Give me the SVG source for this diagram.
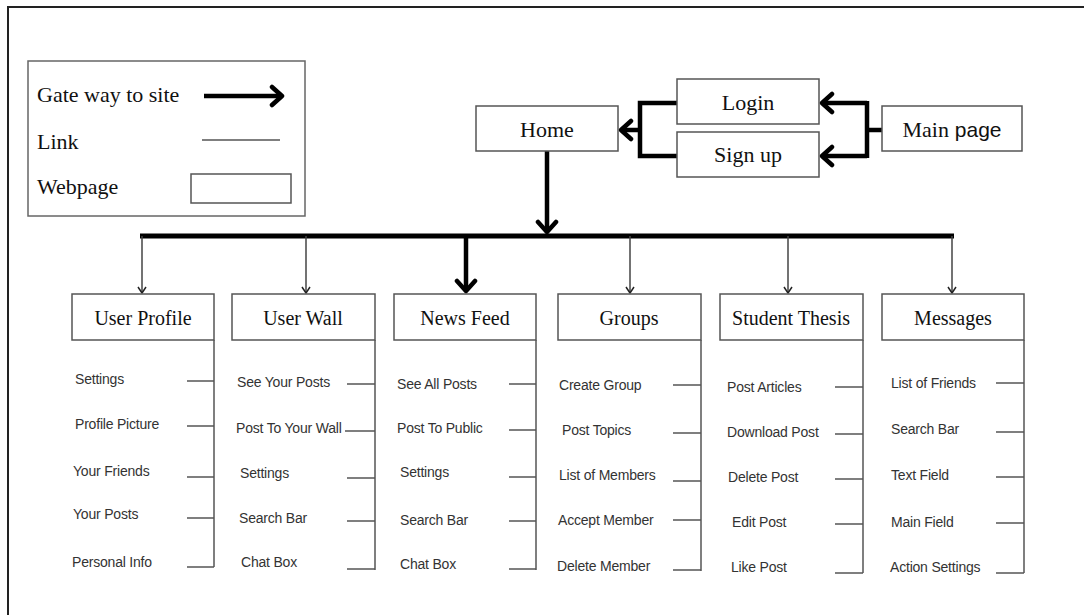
<svg xmlns="http://www.w3.org/2000/svg" width="1084" height="615" viewBox="0 0 1084 615">
<style>
.box{fill:#fff;stroke:#555;stroke-width:1.5}
.ttl{font-family:"Liberation Serif","Times New Roman",serif;font-size:20px;fill:#111;text-anchor:middle}
.top{font-family:"Liberation Serif","Times New Roman",serif;font-size:22px;fill:#111;text-anchor:middle}
.leg{font-family:"Liberation Serif","Times New Roman",serif;font-size:22px;fill:#111}
.itm{font-family:"Liberation Sans",Arial,sans-serif;font-size:14px;letter-spacing:-0.2px;fill:#333}
.thin{fill:none;stroke:#444;stroke-width:1.5}
.br{fill:none;stroke:#555;stroke-width:1.5}
.thick{fill:none;stroke:#000;stroke-width:4.5}
</style>
<defs>
<marker id="ah" markerUnits="userSpaceOnUse" markerWidth="24" markerHeight="24" viewBox="-14 -12 16 24" refX="0" refY="0" orient="auto">
<path d="M-10,-9 L0,0 L-10,9" fill="none" stroke="#000" stroke-width="4.5" stroke-linecap="round" stroke-linejoin="round"/>
</marker>
<marker id="as" markerUnits="userSpaceOnUse" markerWidth="12" markerHeight="12" viewBox="-8 -6 10 12" refX="0" refY="0" orient="auto">
<path d="M-6,-4 L0,0 L-6,4" fill="none" stroke="#222" stroke-width="1.5" stroke-linejoin="round"/>
</marker>
</defs>
<rect width="1084" height="615" fill="#fff"/>
<path d="M8,615 V7 H1084" fill="none" stroke="#222" stroke-width="2"/>

<g id="legend">
<rect x="28" y="61" width="277" height="155" fill="#fff" stroke="#666" stroke-width="1.5"/>
<text class="leg" x="37" y="102">Gate way to site</text>
<line x1="204" y1="96" x2="282" y2="96" class="thick" marker-end="url(#ah)"/>
<text class="leg" x="37" y="149">Link</text>
<line x1="202" y1="140" x2="280" y2="140" stroke="#555" stroke-width="1.5"/>
<text class="leg" x="37" y="194">Webpage</text>
<rect x="191" y="174" width="100" height="29" class="box"/>
</g>

<g id="connectors">
<path d="M677,103 H640 V156 H677" class="thick"/>
<line x1="640" y1="130" x2="621" y2="130" class="thick" marker-end="url(#ah)"/>
<line x1="882" y1="130" x2="867" y2="130" class="thick"/>
<line x1="867" y1="101" x2="867" y2="158" class="thick"/>
<line x1="867" y1="103" x2="822" y2="103" class="thick" marker-end="url(#ah)"/>
<line x1="867" y1="156" x2="822" y2="156" class="thick" marker-end="url(#ah)"/>
<line x1="547" y1="151" x2="547" y2="232" class="thick" marker-end="url(#ah)"/>
<line x1="140" y1="236" x2="954" y2="236" stroke="#000" stroke-width="5"/>
<line x1="142" y1="236" x2="142" y2="293" class="thin" marker-end="url(#as)"/>
<line x1="306" y1="236" x2="306" y2="293" class="thin" marker-end="url(#as)"/>
<line x1="466" y1="236" x2="466" y2="291" class="thick" marker-end="url(#ah)"/>
<line x1="630" y1="236" x2="630" y2="293" class="thin" marker-end="url(#as)"/>
<line x1="788" y1="236" x2="788" y2="293" class="thin" marker-end="url(#as)"/>
<line x1="952" y1="236" x2="952" y2="293" class="thin" marker-end="url(#as)"/>
</g>

<g id="home"><rect x="476" y="106" width="142" height="45" class="box"/><text class="top" x="547" y="137">Home</text></g>
<g id="login"><rect x="677" y="79" width="142" height="45" class="box"/><text class="top" x="748" y="110">Login</text></g>
<g id="signup"><rect x="677" y="132" width="142" height="45" class="box"/><text class="top" x="748" y="162">Sign up</text></g>
<g id="mainpage"><rect x="882" y="106" width="140" height="45" class="box"/><text class="top" x="952" y="137">Main<tspan font-family="Liberation Sans, Arial, sans-serif" font-size="21px"> page</tspan></text></g>

<g id="userprofile">
<rect x="72" y="294" width="142" height="46" class="box"/>
<text class="ttl" x="143" y="325">User Profile</text>
<path d="M214,340 V567" class="br"/>
<path d="M187,381 H214 M187,426 H214 M187,477 H214 M187,518 H214 M187,567 H214" class="br"/>
<text class="itm" x="75" y="384">Settings</text>
<text class="itm" x="75" y="429">Profile Picture</text>
<text class="itm" x="73" y="476">Your Friends</text>
<text class="itm" x="73" y="519">Your Posts</text>
<text class="itm" x="72" y="567">Personal Info</text>
</g>

<g id="userwall">
<rect x="232" y="294" width="143" height="46" class="box"/>
<text class="ttl" x="303" y="325">User Wall</text>
<path d="M375,340 V570" class="br"/>
<path d="M347,384 H375 M345,431 H375 M347,478 H375 M347,521 H375 M347,569 H375" class="br"/>
<text class="itm" x="237" y="387">See Your Posts</text>
<text class="itm" x="236" y="433">Post To Your Wall</text>
<text class="itm" x="240" y="478">Settings</text>
<text class="itm" x="239" y="523">Search Bar</text>
<text class="itm" x="241" y="567">Chat Box</text>
</g>

<g id="newsfeed">
<rect x="394" y="294" width="142" height="46" class="box"/>
<text class="ttl" x="465" y="325">News Feed</text>
<path d="M536,340 V570" class="br"/>
<path d="M509,384 H536 M509,430 H536 M509,477 H536 M509,521 H536 M509,569 H536" class="br"/>
<text class="itm" x="397" y="389">See All Posts</text>
<text class="itm" x="397" y="433">Post To Public</text>
<text class="itm" x="400" y="477">Settings</text>
<text class="itm" x="400" y="525">Search Bar</text>
<text class="itm" x="400" y="569">Chat Box</text>
</g>

<g id="groups">
<rect x="558" y="294" width="143" height="46" class="box"/>
<text class="ttl" x="629" y="325">Groups</text>
<path d="M701,340 V571" class="br"/>
<path d="M673,385 H701 M673,433 H701 M673,481 H701 M673,520 H701 M673,570 H701" class="br"/>
<text class="itm" x="559" y="390">Create Group</text>
<text class="itm" x="562" y="435">Post Topics</text>
<text class="itm" x="559" y="480">List of Members</text>
<text class="itm" x="558" y="525">Accept Member</text>
<text class="itm" x="557" y="571">Delete Member</text>
</g>

<g id="studentthesis">
<rect x="720" y="294" width="143" height="46" class="box"/>
<text class="ttl" x="791" y="325">Student Thesis</text>
<path d="M863,340 V573" class="br"/>
<path d="M835,387 H863 M835,434 H863 M835,479 H863 M835,524 H863 M835,573 H863" class="br"/>
<text class="itm" x="727" y="392">Post Articles</text>
<text class="itm" x="727" y="437">Download Post</text>
<text class="itm" x="728" y="482">Delete Post</text>
<text class="itm" x="732" y="527">Edit Post</text>
<text class="itm" x="731" y="572">Like Post</text>
</g>

<g id="messages">
<rect x="882" y="294" width="142" height="46" class="box"/>
<text class="ttl" x="953" y="325">Messages</text>
<path d="M1024,340 V573" class="br"/>
<path d="M996,383 H1024 M996,432 H1024 M996,477 H1024 M996,523 H1024 M996,573 H1024" class="br"/>
<text class="itm" x="891" y="388">List of Friends</text>
<text class="itm" x="891" y="434">Search Bar</text>
<text class="itm" x="891" y="480">Text Field</text>
<text class="itm" x="891" y="527">Main Field</text>
<text class="itm" x="890" y="572">Action Settings</text>
</g>
</svg>
